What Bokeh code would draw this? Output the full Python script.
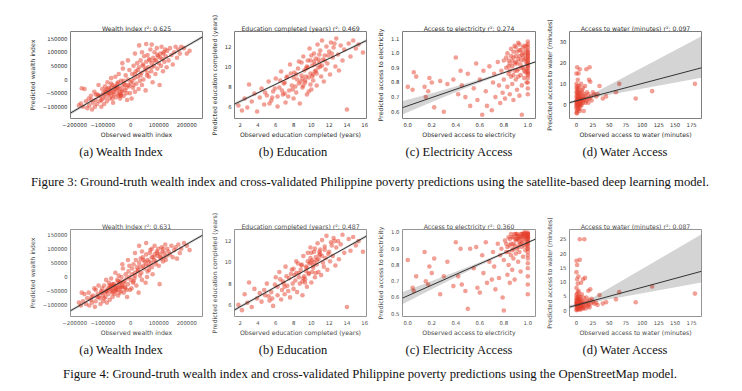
from bokeh.plotting import figure
from bokeh.layouts import row, column
from bokeh.models import Div, FixedTicker, Range1d
from bokeh.embed import file_html
from bokeh.resources import INLINE

# ---------------- data ----------------
# Wealth index (thousands)
wealth_obs = [-185, -178, -170, -165, -160, -155, -150, -148, -142, -138,
              -135, -130, -128, -125, -120, -118, -115, -110, -108, -105,
              -102, -100, -98, -95, -92, -90, -88, -85, -83, -80,
              -78, -75, -73, -70, -68, -65, -63, -60, -58, -55,
              -53, -50, -48, -45, -43, -40, -38, -35, -33, -30,
              -28, -25, -23, -20, -18, -15, -13, -10, -8, -5,
              -3, 0, 3, 5, 8, 10, 13, 15, 18, 20,
              23, 25, 28, 30, 33, 35, 38, 40, 43, 45,
              48, 50, 53, 55, 58, 60, 63, 65, 68, 70,
              73, 75, 78, 80, 83, 85, 88, 90, 93, 95,
              98, 100, 103, 105, 108, 110, 113, 115, 118, 120,
              123, 125, 128, 130, 135, 140, 145, 150, 155, 160,
              165, 170, 175, 180, 190, 200, 210, 30, 55, 75,
              15, -10, -30, 40, -175,
              -90, -80, -70, -60, -50, -40, -30, -20, -65, -45, -55, -35,
              -115, -105, -95, -85, -75, -65, -55, -45, -35, -25,
              -15, -5, 5, 15, 25, 35, 45, 55, 65, 75,
              85, 95, 105, 115, -125, -140, -70, -40, 10, 60]
wealth_pred_sat = [-95, -88, -100, -35, -80, -105, -70, -95, -60, -110,
                   -85, -45, -100, -75, -90, -55, -20, -80, -60, -100,
                   -35, -70, -50, -90, -25, -65, -45, -80, -10, -55,
                   -30, -70, -40, 5, -60, -20, -85, -45, -30, 10,
                   -65, -40, -15, -55, 20, -35, -70, -5, -45, -25,
                   40, -60, -15, -40, 15, -30, -75, 0, -20, 35,
                   -50, -10, -70, 20, -30, 50, 5, -45, 30, -15,
                   60, 10, -35, 45, -5, 70, 25, -20, 55, 0,
                   85, 35, -40, 65, 15, 90, 45, 10, 70, 110,
                   30, 60, -10, 80, 50, 100, 20, 70, 115, 40,
                   85, 60, -20, 95, 50, 120, 75, 30, 100, 65,
                   110, 85, 45, 105, 70, 115, 90, 55, 100, 120,
                   80, 110, 95, 120, 115, 95, 105, 125, 130, 128,
                   95, 70, 60, 100, -32,
                   -40, -50, -30, -55, -25, -50, -40, -20, -45, -10, -35, -60,
                   -60, -75, -55, -35, -50, -70, -25, -30, -55, -5,
                   -50, -25, -5, 20, 35, 15, 50, 40, 75, 45,
                   70, 90, 80, 95, -55, -75, -15, -60, -20, 25]
wealth_pred_osm = [-90, -100, -85, -60, -95, -75, -55, -100, -80, -90,
                   -65, -40, -105, -85, -70, -60, -30, -75, -95, -50,
                   -40, -65, -85, -30, -55, -70, -10, -90, -45, -60,
                   -20, -80, -35, -5, -50, -70, -40, -25, -60, 15,
                   -45, -30, -10, -65, 5, -40, -20, -50, 0, -30,
                   30, -55, -15, -35, 10, -5, -70, -25, 20, 40,
                   -45, -10, -40, 30, -20, 45, -5, 15, 60, -30,
                   35, 20, -55, 50, 5, 65, 15, -10, 70, 40,
                   30, 55, -20, 80, 0, 60, 40, 25, 85, 95,
                   50, 35, 10, 70, 60, 110, 45, 55, 90, 75,
                   100, 40, -25, 80, 65, 105, 90, 55, 70, 85,
                   115, 60, 75, 100, 90, 80, 110, 70, 95, 105,
                   65, 115, 85, 100, 120, 110, 95, 110, 120, 100,
                   85, 60, 45, 90, -55,
                   -50, -40, -45, -30, -45, -20, -35, -40, -25, -35, -50, -15,
                   -70, -55, -75, -50, -30, -55, -40, -15, -35, -20,
                   -45, 0, 10, 5, 25, 35, 60, 45, 55, 70,
                   80, 85, 70, 100, -45, -70, -30, -55, -15, 20]
wealth_fit_x = [-215, 256]
wealth_fit_sat = [-123, 156]
wealth_fit_osm = [-118.7, 147.5]
wealth_band_x = [-215, 20, 256]
wealth_band_sat_lo = [-129, 14.2, 150]
wealth_band_sat_hi = [-117, 18.2, 162]
wealth_band_osm_lo = [-124, 12.3, 142]
wealth_band_osm_hi = [-113.4, 15.9, 153]
wealth_ticks_x = [-200, -100, 0, 100, 200]
wealth_ticks_y = [-100, -50, 0, 50, 100, 150]

# Education completed (years)
edu_obs = [1.8, 2.2, 2.5, 2.8, 3.0, 3.3, 3.6, 3.9, 4.2, 4.4,
           4.7, 5.0, 5.2, 5.5, 5.7, 6.0, 6.2, 6.4, 6.6, 6.8,
           7.0, 7.1, 7.3, 7.5, 7.6, 7.8, 8.0, 8.1, 8.3, 8.4,
           8.6, 8.7, 8.9, 9.0, 9.1, 9.3, 9.4, 9.5, 9.6, 9.7,
           9.8, 9.9, 10.0, 10.1, 10.2, 10.3, 10.4, 10.5, 10.6, 10.7,
           10.8, 10.9, 11.0, 11.1, 11.2, 11.3, 11.4, 11.5, 11.6, 11.7,
           11.8, 12.0, 12.1, 12.2, 12.4, 12.5, 12.7, 12.8, 13.0, 13.1,
           13.3, 13.5, 13.7, 14.0, 14.2, 14.4, 14.7, 15.0, 15.3, 15.8,
           8.2, 8.8, 9.2, 9.5, 9.9, 10.2, 10.5, 10.8, 11.0, 7.7,
           8.5, 9.0, 9.7, 10.4, 6.9, 7.4, 6.5, 5.9, 5.3, 4.8,
           7.2, 7.9, 8.3, 8.6, 8.9, 9.1, 9.4, 9.6, 9.9, 10.1,
           10.3, 10.6, 10.9, 11.2, 11.5, 11.9, 12.3, 6.7, 7.0, 6.2,
           5.6, 8.0, 9.3, 10.0, 12.6]
edu_pred_sat = [6.1, 5.6, 6.8, 5.9, 8.2, 6.5, 7.3, 5.5, 6.9, 7.8,
                6.2, 7.1, 8.5, 6.6, 7.5, 8.8, 6.0, 7.9, 9.5, 7.2,
                8.4, 6.4, 9.0, 7.6, 10.2, 8.1, 6.8, 9.4, 7.4, 8.7,
                10.5, 6.3, 9.1, 7.9, 11.0, 8.4, 9.8, 7.2, 10.6, 8.9,
                11.8, 9.3, 7.7, 10.1, 8.6, 11.3, 9.5, 10.8, 8.1, 12.2,
                9.9, 10.4, 11.6, 9.0, 12.6, 10.7, 8.5, 11.1, 9.7, 12.0,
                10.3, 11.5, 9.2, 12.4, 10.9, 11.9, 10.0, 12.8, 11.2, 9.6,
                12.1, 10.6, 11.7, 5.7, 12.3, 11.0, 12.6, 11.8, 12.2, 11.4,
                8.0, 8.5, 9.6, 10.0, 8.2, 9.2, 9.6, 10.7, 10.0, 9.3,
                9.8, 8.8, 7.5, 10.2, 8.3, 7.0, 8.6, 7.8, 6.3, 7.4,
                8.9, 7.7, 9.2, 8.3, 10.4, 8.1, 9.0, 9.9, 10.6, 9.0,
                10.5, 9.3, 11.2, 10.1, 10.6, 11.1, 11.3, 7.6, 7.3, 7.0,
                6.9, 8.9, 8.6, 11.1, 12.3]
edu_pred_osm = [6.0, 5.5, 7.0, 6.2, 8.1, 5.8, 7.5, 6.6, 7.1, 6.3,
                7.4, 8.0, 6.8, 7.2, 5.9, 8.6, 7.7, 9.1, 6.5, 8.2,
                7.0, 9.6, 7.8, 8.5, 6.7, 9.3, 7.5, 8.8, 10.1, 7.2,
                9.0, 8.0, 9.7, 6.9, 10.6, 8.4, 9.2, 7.7, 10.9, 8.9,
                9.9, 11.4, 8.1, 10.2, 9.5, 11.0, 8.6, 10.5, 9.8, 11.8,
                9.1, 10.7, 11.2, 8.8, 12.1, 10.0, 9.6, 11.5, 10.4, 12.5,
                9.3, 11.0, 10.1, 11.9, 10.6, 12.3, 9.7, 11.4, 12.0, 10.3,
                11.7, 12.6, 10.9, 5.8, 12.2, 11.1, 12.4, 11.6, 12.0, 11.0,
                8.3, 9.3, 8.7, 9.5, 10.0, 9.7, 9.0, 10.3, 10.8, 8.9,
                9.9, 8.2, 9.0, 11.3, 8.0, 7.3, 8.4, 7.9, 6.4, 6.9,
                8.7, 8.0, 9.0, 8.6, 9.8, 8.5, 9.6, 10.1, 10.4, 9.1,
                10.0, 10.2, 11.0, 10.6, 11.2, 10.8, 11.6, 7.4, 7.7, 6.9,
                6.6, 9.4, 8.1, 10.9, 12.0]
edu_fit_x = [1.36, 16.2]
edu_fit_sat = [6.24, 12.6]
edu_fit_osm = [5.52, 12.48]
edu_band_x = [1.36, 9.5, 16.2]
edu_band_sat_lo = [6.08, 9.68, 12.44]
edu_band_sat_hi = [6.40, 9.78, 12.76]
edu_band_osm_lo = [5.36, 9.29, 12.32]
edu_band_osm_hi = [5.68, 9.39, 12.64]
edu_ticks_x = [2, 4, 6, 8, 10, 12, 14, 16]
edu_ticks_y = [6, 8, 10, 12]

# Access to electricity
elec_obs = [0.00, 0.04, 0.05, 0.07, 0.14, 0.15, 0.17, 0.18, 0.20, 0.22,
            0.27, 0.30, 0.33, 0.38, 0.40, 0.42, 0.44, 0.45, 0.48, 0.50,
            0.52, 0.55, 0.57, 0.58, 0.60, 0.62, 0.63, 0.65, 0.66, 0.68,
            0.70, 0.71, 0.72, 0.73, 0.75, 0.76, 0.77, 0.78, 0.79, 0.80,
            0.80, 0.81, 0.82, 0.83, 0.83, 0.84, 0.85, 0.85, 0.86, 0.86,
            0.87, 0.87, 0.88, 0.88, 0.89, 0.89, 0.90, 0.90, 0.91, 0.91,
            0.92, 0.92, 0.93, 0.93, 0.94, 0.94, 0.95, 0.95, 0.95, 0.96,
            0.96, 0.97, 0.97, 0.98, 0.98, 0.99, 0.99, 1.00, 1.00, 1.00,
            1.00, 1.00, 1.00, 1.00, 1.00, 1.00, 1.00, 1.00, 1.00, 1.00,
            1.00, 1.00, 1.00, 1.00, 1.00, 1.00, 1.00, 0.84, 0.86, 0.88,
            0.90, 0.92, 0.93, 0.94, 0.96, 0.97, 0.98, 0.89, 0.91,
            0.85, 0.87, 0.88, 0.90, 0.91, 0.92, 0.93, 0.94, 0.95, 0.96,
            0.97, 0.98, 0.99, 0.99, 1.00, 1.00, 1.00, 1.00, 0.82, 0.84]
elec_pred_sat = [0.77, 0.75, 0.87, 0.84, 0.77, 0.70, 0.74, 0.83, 0.80, 0.63,
                 0.81, 0.60, 0.79, 0.82, 0.97, 0.72, 0.88, 0.78, 0.70, 0.86,
                 0.64, 0.76, 0.93, 0.68, 0.82, 0.58, 0.88, 0.74, 0.64, 0.91,
                 0.61, 0.80, 0.86, 0.70, 0.94, 0.78, 0.66, 0.88, 0.73, 0.95,
                 0.82, 0.69, 0.90, 1.00, 0.77, 0.86, 0.93, 0.72, 1.03, 0.84,
                 0.91, 0.79, 0.97, 0.68, 0.88, 1.05, 0.82, 0.94, 0.75, 1.01,
                 0.89, 0.96, 0.71, 1.06, 0.85, 0.92, 0.99, 0.78, 0.58, 0.90,
                 1.04, 0.83, 0.95, 0.87, 1.02, 0.93, 0.80, 0.72, 0.76, 0.80,
                 0.83, 0.86, 0.88, 0.90, 0.92, 0.94, 0.96, 0.98, 1.00, 1.02,
                 1.04, 1.06, 1.08, 0.95, 0.99, 0.91, 0.87, 0.95, 0.98, 1.01,
                 1.04, 1.07, 0.98, 1.02, 0.97, 1.05, 0.96, 0.93, 0.88,
                 0.88, 0.95, 0.85, 0.98, 0.93, 0.84, 1.02, 0.95, 0.90, 1.00,
                 0.88, 0.99, 1.05, 0.89, 0.93, 1.01, 0.85, 0.97, 0.97, 0.91]
elec_pred_osm = [0.83, 0.66, 0.64, 0.73, 0.88, 0.70, 0.68, 0.79, 0.75, 0.84,
                 0.62, 0.73, 0.82, 0.67, 0.94, 0.73, 0.90, 0.68, 0.64, 0.53,
                 0.90, 0.78, 0.91, 0.66, 0.63, 0.86, 0.75, 0.94, 0.69, 0.82,
                 0.71, 0.88, 0.79, 0.65, 0.93, 0.72, 0.86, 0.90, 0.60, 0.52,
                 0.83, 0.95, 0.88, 0.74, 0.91, 0.80, 0.96, 0.69, 0.86, 0.93,
                 0.77, 0.89, 0.97, 0.84, 0.92, 0.71, 0.95, 0.87, 0.98, 0.90,
                 0.82, 0.96, 0.93, 0.88, 0.99, 0.76, 0.94, 0.91, 0.97, 0.85,
                 0.98, 0.92, 0.99, 0.89, 0.96, 0.97, 0.94, 0.62, 0.68, 0.73,
                 0.78, 0.81, 0.84, 0.86, 0.88, 0.90, 0.92, 0.94, 0.95, 0.96,
                 0.97, 0.98, 0.99, 1.00, 0.99, 0.97, 0.93, 0.97, 0.99, 0.93,
                 0.99, 0.98, 0.95, 0.97, 0.99, 1.00, 0.98, 0.99, 0.96,
                 0.92, 0.97, 0.90, 0.96, 0.99, 0.91, 0.97, 0.93, 0.99, 0.95,
                 0.97, 1.00, 0.98, 0.92, 0.96, 0.98, 0.90, 0.99, 0.93, 0.88]
elec_fit_x = [-0.044, 1.064]
elec_fit_sat = [0.628, 0.941]
elec_fit_osm = [0.596, 0.959]
elec_band_x = [-0.044, 0.2, 0.5, 0.8, 1.064]
elec_band_sat_lo = [0.582, 0.667, 0.767, 0.860, 0.935]
elec_band_sat_hi = [0.674, 0.727, 0.797, 0.874, 0.947]
elec_band_osm_lo = [0.558, 0.651, 0.761, 0.866, 0.953]
elec_band_osm_hi = [0.634, 0.701, 0.787, 0.878, 0.965]
elec_ticks_x = [0.0, 0.2, 0.4, 0.6, 0.8, 1.0]
elec_ticks_y_sat = [0.6, 0.7, 0.8, 0.9, 1.0, 1.1]
elec_ticks_y_osm = [0.5, 0.6, 0.7, 0.8, 0.9, 1.0]

# Access to water (minutes)
water_obs = [0, 0, 0, 0, 0, 0, 0, 0, 0, 1,
             1, 1, 1, 1, 1, 1, 2, 2, 2, 2,
             2, 3, 3, 3, 3, 3, 4, 4, 4, 4,
             5, 5, 5, 5, 6, 6, 6, 7, 7, 7,
             8, 8, 8, 9, 9, 10, 10, 10, 11, 11,
             12, 12, 13, 14, 14, 15, 15, 16, 17, 18,
             18, 19, 20, 20, 21, 22, 23, 25, 27, 30,
             32, 35, 40, 45, 60, 65, 90, 115, 180,
             0, 1, 2, 3, 4, 5, 6, 7, 0, 1, 2, 3]
water_pred_sat = [-4, -2, 0, 2, 4, 6, 8, 10, 15, -3,
                  1, 3, 5, 7, 9, 18, -1, 2, 4, 6,
                  12, 0, 3, 5, 8, 15, -2, 1, 4, 9,
                  0, 2, 6, 17, -1, 3, 5, 1, 4, 10,
                  0, 2, 7, 3, 6, 1, 4, 8, -3, 2,
                  5, 3, 9, 1, 4, 17, 2, 6, 3, 1,
                  5, 12, 18, 3, 11, 4, 2, 6, 5, 4,
                  5, 9, 3, 4, 6, 10, 3, 6.5, 10,
                  -1, 0, 1, -2, 3, -3, 0, 2, 1, -4, 3, 7]
water_pred_osm = [0.2, 1.0, 2.0, 3.0, 4.5, 5.5, 8.0, 13.5, 17.5, 0.5,
                  1.5, 2.5, 3.8, 6.0, 11.0, 16.0, 0.8, 2.2, 3.5, 4.8,
                  9.5, 1.2, 2.8, 4.2, 7.0, 12.0, 0.6, 1.8, 3.2, 5.0,
                  1.0, 2.4, 25.0, 17.8, 0.4, 2.0, 4.0, 1.4, 3.0, 9.8,
                  0.9, 2.6, 5.8, 1.6, 3.6, 0.7, 2.2, 11.0, 4.5, 1.2,
                  25.0, 3.0, 11.5, 0.8, 2.4, 2.0, 4.6, 3.4, 1.5, 7.0,
                  2.8, 2.0, 3.8, 1.2, 7.5, 2.6, 4.2, 3.2, 2.5, 2.8,
                  2.0, 5.5, 2.5, 3.0, 4.0, 6.5, 3.0, 8.5, 6.0,
                  2.5, 3.2, 1.5, 2.0, 4.0, 3.5, 5.0, 1.8, 3.8, 2.7, 0.5, 6.5]
water_fit_x = [-10.6, 190]
water_fit_sat = [1.0, 17.7]
water_fit_osm = [1.3, 13.8]
water_band_x = [-10.6, 0, 16.7, 190]
water_band_sat_lo = [0.3, 1.4, 2.9, 12.9]
water_band_sat_hi = [1.7, 2.4, 3.9, 32.8]
water_band_osm_lo = [0.6, 1.5, 2.6, 9.9]
water_band_osm_hi = [2.0, 2.4, 3.5, 26.7]
water_ticks_x = [0, 25, 50, 75, 100, 125, 150, 175]
water_ticks_y_sat = [0, 10, 20, 30]
water_ticks_y_osm = [0, 5, 10, 15, 20, 25]

r2_sat = ["0.625", "0.469", "0.274", "0.097"]
r2_osm = ["0.631", "0.487", "0.360", "0.087"]
subcaptions = ["(a) Wealth Index", "(b) Education", "(c) Electricity Access", "(d) Water Access"]
caption3 = ("Figure 3: Ground-truth wealth index and cross-validated Philippine poverty "
            "predictions using the satellite-based deep learning model.")
caption4 = ("Figure 4: Ground-truth wealth index and cross-validated Philippine poverty "
            "predictions using the OpenStreetMap model.")

# ---------------- styling ----------------
SANS = "DejaVu Sans"
SERIF = "Liberation Serif"
RED = "#e6402c"

def fmt(v, kind):
    if kind == "k":
        s = str(int(v * 1000))
    elif kind == "f1":
        s = "%.1f" % v
    else:
        s = str(int(v))
    return s.replace("-", "\u2212")

def panel(obs, pred, scale, fit_x, fit_y, band_x, band_lo, band_hi,
          xr, yr, xt, yt, xkind, ykind, title, xlab, ylab,
          bl, br, bt, fw, fh, ink, spine):
    xs = [v * scale for v in obs]
    ys = [v * scale for v in pred]
    p = figure(frame_width=fw, frame_height=fh,
               x_range=Range1d(*xr), y_range=Range1d(*yr),
               min_border_left=bl, min_border_right=br,
               min_border_top=bt, min_border_bottom=20,
               output_backend="svg", toolbar_location=None, title=title)
    p.title.align = "center"
    p.title.text_font = SANS
    p.title.text_font_size = "6.2px"
    p.title.text_font_style = "normal"
    p.title.text_color = ink
    p.title.standoff = 0
    p.outline_line_color = spine
    p.outline_line_width = 1
    p.grid.visible = False
    p.background_fill_color = "white"
    p.border_fill_color = "white"
    p.scatter(xs, ys, size=4.6, fill_color=RED, fill_alpha=0.5, line_color=None)
    p.varea(x=[v * scale for v in band_x], y1=[v * scale for v in band_lo],
            y2=[v * scale for v in band_hi], fill_color="black", fill_alpha=0.17)
    p.line([v * scale for v in fit_x], [v * scale for v in fit_y],
           line_color="#333333", line_width=1)
    for ax, ticks, kind, lab in ((p.xaxis[0], xt, xkind, xlab), (p.yaxis[0], yt, ykind, ylab)):
        tvals = [v * scale for v in ticks] if kind == "k" else ticks
        ax.ticker = FixedTicker(ticks=tvals)
        ax.major_label_overrides = {tv: fmt(t, kind) for tv, t in zip(tvals, ticks)}
        ax.axis_line_color = None
        ax.major_tick_line_color = None
        ax.minor_tick_line_color = None
        ax.major_tick_out = 0
        ax.major_tick_in = 0
        ax.minor_tick_out = 0
        ax.major_label_text_font = SANS
        ax.major_label_text_font_size = "5.3px"
        ax.major_label_text_color = ink
        ax.axis_label = lab
        ax.axis_label_text_font = SANS
        ax.axis_label_text_font_size = "6.2px"
        ax.axis_label_text_font_style = "normal"
        ax.axis_label_text_color = ink
    p.xaxis.major_label_standoff = 4
    p.xaxis.axis_label_standoff = 1
    p.yaxis.major_label_standoff = 3
    p.yaxis.axis_label_standoff = 4
    return p

def build_row(pred_sets, fits, bands, yranges, yticks, r2, bt, fh, ink, spine):
    titles = ["Wealth Index r\u00b2: ", "Education completed (years) r\u00b2: ",
              "Access to electricity r\u00b2: ", "Access to water (minutes) r\u00b2: "]
    figs = []
    figs.append(panel(wealth_obs, pred_sets[0], 1000, wealth_fit_x, fits[0], wealth_band_x,
                      bands[0][0], bands[0][1], (-215000, 256000), yranges[0],
                      wealth_ticks_x, wealth_ticks_y, "k", "k", titles[0] + r2[0],
                      "Observed wealth index", "Predicted wealth index",
                      63, 5, bt, 132, fh, ink, spine))
    figs.append(panel(edu_obs, pred_sets[1], 1, edu_fit_x, fits[1], edu_band_x,
                      bands[1][0], bands[1][1], (1.36, 16.2), yranges[1],
                      edu_ticks_x, edu_ticks_y, "i", "i", titles[1] + r2[1],
                      "Observed education completed (years)", "Predicted education completed (years)",
                      24, 8, bt, 132, fh, ink, spine))
    figs.append(panel(elec_obs, pred_sets[2], 1, elec_fit_x, fits[2], elec_band_x,
                      bands[2][0], bands[2][1], (-0.044, 1.064), yranges[2],
                      elec_ticks_x, yticks[0], "f1", "f1", titles[2] + r2[2],
                      "Observed access to electricity", "Predicted access to electricity",
                      26, 7, bt, 133, fh, ink, spine))
    figs.append(panel(water_obs, pred_sets[3], 1, water_fit_x, fits[3], water_band_x,
                      bands[3][0], bands[3][1], (-10.6, 190), yranges[3],
                      water_ticks_x, yticks[1], "i", "i", titles[3] + r2[3],
                      "Observed access to water (minutes)", "Predicted access to water (minutes)",
                      24, 10, bt, 132, fh, ink, spine))
    return row(*figs, spacing=0)

row1 = build_row([wealth_pred_sat, edu_pred_sat, elec_pred_sat, water_pred_sat],
                 [wealth_fit_sat, edu_fit_sat, elec_fit_sat, water_fit_sat],
                 [(wealth_band_sat_lo, wealth_band_sat_hi), (edu_band_sat_lo, edu_band_sat_hi),
                  (elec_band_sat_lo, elec_band_sat_hi), (water_band_sat_lo, water_band_sat_hi)],
                 [(-143000, 176000), (4.8, 13.5), (0.554, 1.148), (-6.6, 35.1)],
                 [elec_ticks_y_sat, water_ticks_y_sat], r2_sat, 24, 87, "#303030", "#7f7f7f")
row2 = build_row([wealth_pred_osm, edu_pred_osm, elec_pred_osm, water_pred_osm],
                 [wealth_fit_osm, edu_fit_osm, elec_fit_osm, water_fit_osm],
                 [(wealth_band_osm_lo, wealth_band_osm_hi), (edu_band_osm_lo, edu_band_osm_hi),
                  (elec_band_osm_lo, elec_band_osm_hi), (water_band_osm_lo, water_band_osm_hi)],
                 [(-139000, 167700), (4.9, 13.1), (0.483, 1.018), (-2.0, 28.4)],
                 [elec_ticks_y_osm, water_ticks_y_osm], r2_osm, 29, 87, "#4a4a4a", "#959595")

def div(text, width, height, size):
    return Div(text=text, width=width, height=height, margin=0,
               styles={"font-family": SERIF, "font-size": size, "text-align": "center",
                       "line-height": "%dpx" % height, "color": "#111111",
                       "white-space": "nowrap"})

def sub_row():
    widths = [228, 116, 216, 116]
    return row(*[div(t, w, 24, "12.5px") for t, w in zip(subcaptions, widths)], spacing=0)

layout = column(row1, sub_row(), div(caption3, 726, 36, "12.7px"),
                row2, sub_row(), div(caption4, 726, 24, "12.7px"),
                spacing=0, margin=(7, 0, 0, 7))

open("out.html", "w").write(file_html(layout, INLINE))
